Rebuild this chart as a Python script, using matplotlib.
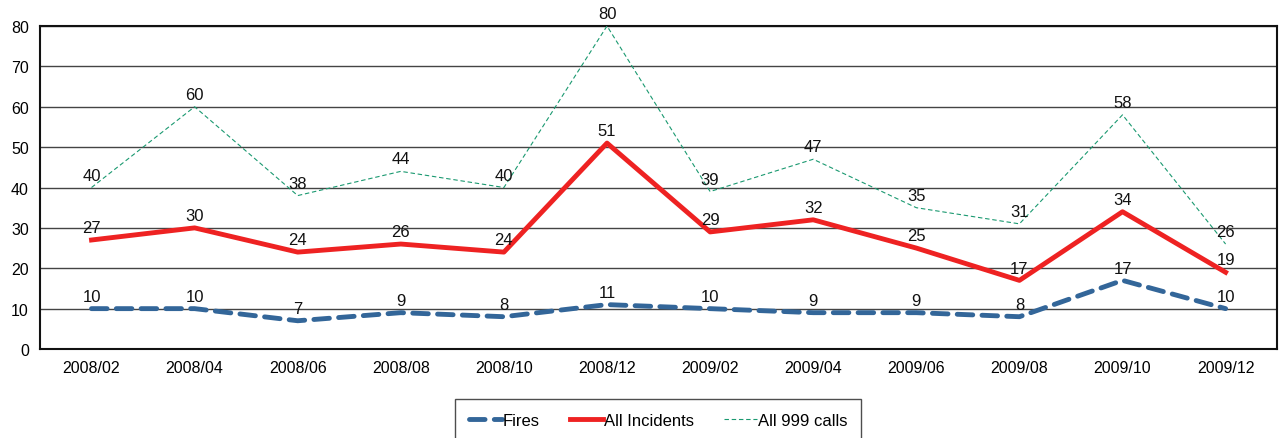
import matplotlib.pyplot as plt

plt.rcParams['font.family'] = ['Liberation Sans', 'DejaVu Sans']

months = ['2008/02', '2008/04', '2008/06', '2008/08', '2008/10', '2008/12',
          '2009/02', '2009/04', '2009/06', '2009/08', '2009/10', '2009/12']
fires = [10, 10, 7, 9, 8, 11, 10, 9, 9, 8, 17, 10]
incidents = [27, 30, 24, 26, 24, 51, 29, 32, 25, 17, 34, 19]
calls = [40, 60, 38, 44, 40, 80, 39, 47, 35, 31, 58, 26]

fig = plt.figure(figsize=(12.81, 4.39), dpi=100)
ax = fig.add_axes([0.0312, 0.2027, 0.9658, 0.7358])

x = range(len(months))
l1, = ax.plot(x, fires, color='#336699', lw=3.5, dashes=(3.2, 1.9), dash_capstyle='round',
              label='Fires', zorder=3)
l2, = ax.plot(x, incidents, color='#ee2222', lw=3.5, label='All Incidents', zorder=3)
l3, = ax.plot(x, calls, color='#1a9970', lw=0.8, ls=(0, (4, 2.5)), label='All 999 calls', zorder=3)

for series in (fires, incidents, calls):
    for i, v in enumerate(series):
        ax.annotate(str(v), (i, v), xytext=(0, 3.5), textcoords='offset points',
                    ha='center', va='bottom', fontsize=12, color='#111111', zorder=4)

ax.set_xlim(-0.5, 11.5)
ax.set_ylim(0, 80)
ax.set_yticks(range(0, 81, 10))
ax.set_xticks(list(x))
ax.set_xticklabels(months)
ax.tick_params(axis='both', length=0, labelsize=11.5, pad=8)
ax.yaxis.grid(True, color='#444444', lw=1)
ax.set_axisbelow(True)
for s in ax.spines.values():
    s.set_linewidth(1.5)
    s.set_color('#111111')

fig.legend(handles=[l1, l2, l3], loc='upper center', bbox_to_anchor=(0.5137, 0.107),
           ncol=3, frameon=True, fancybox=False, edgecolor='#222222', fontsize=12,
           handlelength=2.0, handletextpad=0.05, columnspacing=1.8,
           borderpad=0.8)

fig.savefig('out.png', dpi=100)
